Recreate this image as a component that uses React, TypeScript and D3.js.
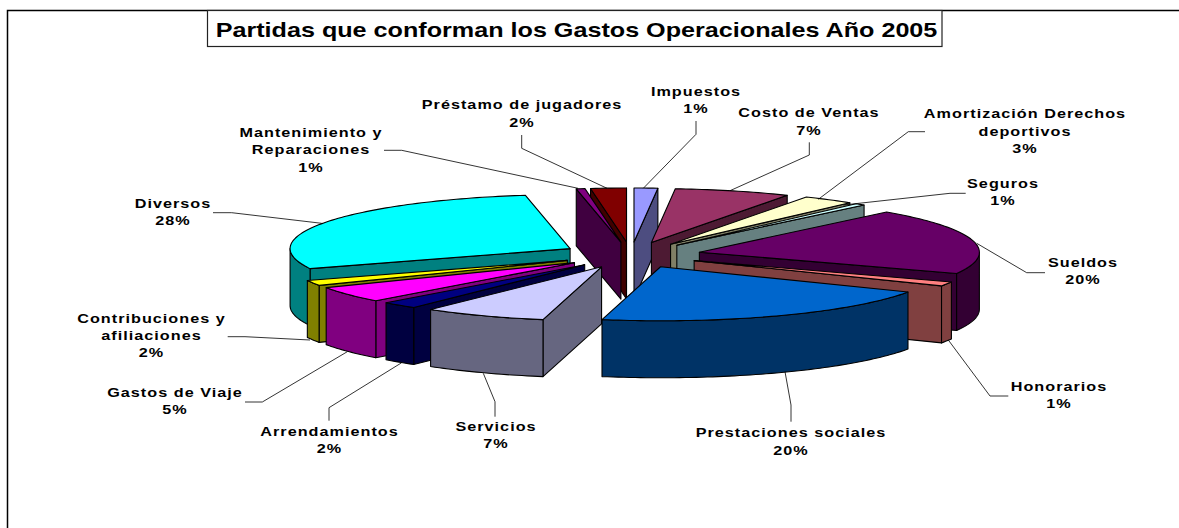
import React from "react";
import * as d3 from "d3";

const categories = ["Impuestos","Costo de Ventas","Amortización Derechos deportivos","Seguros","Sueldos","Honorarios","Prestaciones sociales","Servicios","Arrendamientos","Gastos de Viaje","Contribuciones y afiliaciones","Diversos","Mantenimiento y Reparaciones","Préstamo de jugadores"];
const values = [1.36,6.7,3.0,0.6,19.8,1.3,20.6,7.1,2.1,4.8,1.6,28.5,0.5,2.05];
const percentLabels = ["1%","7%","3%","1%","20%","1%","20%","7%","2%","5%","2%","28%","1%","2%"];
const topColors = ["#9999FF","#993366","#FFFFCC","#CCFFFF","#660066","#FF8080","#0066CC","#CCCCFF","#000080","#FF00FF","#FFFF00","#00FFFF","#800080","#800000"];
const sideColors = ["#4D4D80","#4D1A33","#808066","#668080","#330033","#804040","#003366","#666680","#000040","#800080","#808000","#008080","#400040","#400000"];

// label layout: text lines, centre x, first baseline
const labelLines = [["Impuestos"],["Costo de Ventas"],["Amortización Derechos","deportivos"],["Seguros"],["Sueldos"],["Honorarios"],["Prestaciones sociales"],["Servicios"],["Arrendamientos"],["Gastos de Viaje"],["Contribuciones y","afiliaciones"],["Diversos"],["Mantenimiento y","Reparaciones"],["Préstamo de jugadores"]];
const labelX = [696,809,1025,1003,1083,1059,791,496,329.5,175,151.5,173,311,522];
const labelY = [96,117.3,118.3,187.8,267,391,437.3,431,436,396.6,322.6,208,136.8,109.3];
const leaders: number[][][] = [
  [[696,121],[696,134.3],[643.3,188.3]],
  [[809.3,142.3],[809.3,155],[730,190.7]],
  [[925,131.7],[908.3,131.7],[818.3,199.3]],
  [[965.7,193.3],[950,193.3],[843.3,205]],
  [[1045,272.7],[1026.7,272.7],[976.7,243.3]],
  [[1008.3,396],[990,396],[948.3,340]],
  [[791,421.7],[791,405],[785,371.7]],
  [[495,416.7],[495,401.7],[483.3,373.3]],
  [[329,420.7],[329,407.7],[401.7,362.7]],
  [[245,402],[262.3,402],[347.3,351.7]],
  [[227.7,336.7],[245,336.7],[310,340]],
  [[213,212.7],[231.7,212.7],[321.7,223.3]],
  [[384,150.3],[401.7,150.3],[578,188.3]],
  [[521.7,135],[521.7,148.3],[607,188.3]],
];

const W = 1179, H = 528;
const CX = 631, CY = 255, RX = 280, RY = 54, DEPTH = 57, EX = 70, EY = 13;
const FONT = "'Liberation Sans', Arial, sans-serif";
const LABEL_STRETCH = 1.2, LABEL_SPACING = 0.85, LINE_H = 17.4;

const pieGen = d3.pie<number>().sort(null).startAngle(0).endAngle(2 * Math.PI);
const lineGen = d3.line();

export default function App() {
  const arcs = pieGen(values);
  const slices = arcs.map((a, i) => {
    const mid = (a.startAngle + a.endAngle) / 2;
    const ax = CX + EX * Math.sin(mid), ay = CY - EY * Math.cos(mid);
    const rim = (t: number): [number, number] => [ax + RX * Math.sin(t), ay - RY * Math.cos(t)];
    const sample = (t0: number, t1: number) => {
      const n = Math.max(2, Math.ceil((t1 - t0) / 0.02));
      return d3.range(n + 1).map((k) => rim(t0 + ((t1 - t0) * k) / n));
    };
    const drop = (p: [number, number]): [number, number] => [p[0], p[1] + DEPTH];
    const apex: [number, number] = [ax, ay];
    const walls: [number, number][][] = [];
    const s = a.startAngle, e = a.endAngle;
    if (Math.sin(s) < 0) {
      const p = rim(s);
      walls.push([apex, p, drop(p), drop(apex)]);
    }
    if (Math.sin(e) > 0) {
      const p = rim(e);
      walls.push([apex, p, drop(p), drop(apex)]);
    }
    const r0 = Math.max(s, Math.PI / 2), r1 = Math.min(e, (3 * Math.PI) / 2);
    if (r1 > r0) {
      const pts = sample(r0, r1);
      walls.push([...pts, ...pts.slice().reverse().map(drop)]);
    }
    const top: [number, number][] = [apex, ...sample(s, e)];
    return { i, depthKey: Math.cos(mid), walls, top };
  });
  const order = slices.slice().sort((p, q) => d3.descending(p.depthKey, q.depthKey));

  return (
    <svg width={W} height={H} viewBox={`0 0 ${W} ${H}`} style={{ position: "absolute", left: 0, top: 0, display: "block", background: "#fff" }}>
      <path d={`M7.5,${H}V10.5H${W}`} fill="none" stroke="#000" strokeWidth={1.5} />
      {order.map((sl) => (
        <g key={categories[sl.i]} stroke="#000" strokeWidth={1.1} strokeLinejoin="round">
          {sl.walls.map((w, k) => (
            <path key={k} d={lineGen(w) + "Z"} fill={sideColors[sl.i]} />
          ))}
          <path d={lineGen(sl.top) + "Z"} fill={topColors[sl.i]} />
        </g>
      ))}
      {leaders.map((pts, i) => (
        <path key={i} d={lineGen(pts as [number, number][]) as string} fill="none" stroke="#000" strokeWidth={0.8} />
      ))}
      {categories.map((c, i) => {
        const lines = [...labelLines[i], percentLabels[i]];
        return (
          <g key={c} transform={`translate(${labelX[i]},${labelY[i]}) scale(${LABEL_STRETCH},1)`}>
            {lines.map((t, k) => (
              <text key={k} y={k * LINE_H} textAnchor="middle" fontFamily={FONT} fontWeight="bold" fontSize={13.5} letterSpacing={LABEL_SPACING} fill="#000">{t}</text>
            ))}
          </g>
        );
      })}
      <rect x={207.5} y={10.5} width={734.5} height={36} fill="#fff" stroke="#222" strokeWidth={1.2} />
      <text transform="translate(576.5,36.5) scale(1.258,1)" textAnchor="middle" fontFamily={FONT} fontWeight="bold" fontSize={20} fill="#000">Partidas que conforman los Gastos Operacionales Año 2005</text>
    </svg>
  );
}
